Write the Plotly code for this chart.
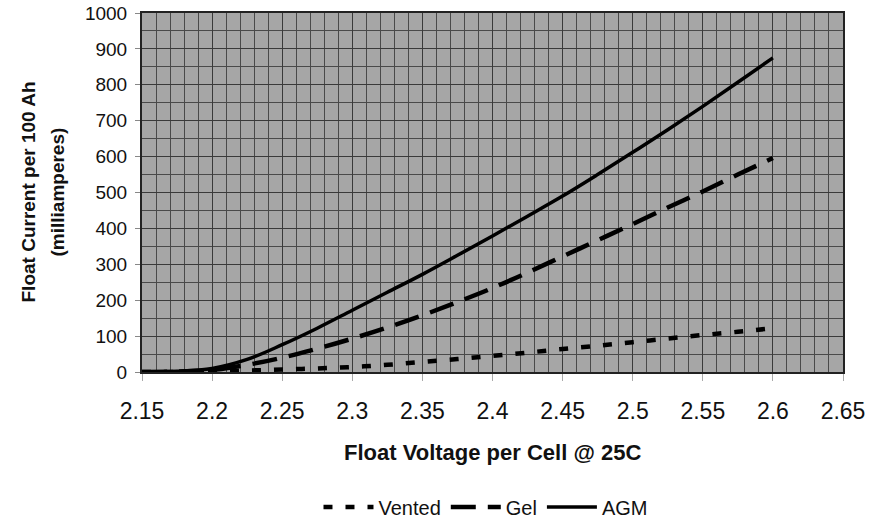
import plotly.graph_objects as go

# float voltage per cell (V) and float current per 100 Ah (mA)
voltage = [2.15, 2.175, 2.2, 2.225, 2.25, 2.275, 2.3, 2.325, 2.35, 2.375,
           2.4, 2.425, 2.45, 2.475, 2.5, 2.525, 2.55, 2.575, 2.6]
vented = [0, 0, 2, 4, 7, 10, 14, 20, 28, 36, 45, 54, 64, 73, 83, 93, 103, 112, 122]
gel = [0, 1, 6, 20, 40, 65, 93, 124, 158, 195, 234, 277, 322, 367, 412, 458, 503, 550, 596]
agm = [0, 2, 10, 35, 76, 122, 172, 222, 272, 325, 379, 434, 490, 550, 612, 675, 740, 807, 875]

x_ticks = [2.15, 2.2, 2.25, 2.3, 2.35, 2.4, 2.45, 2.5, 2.55, 2.6, 2.65]
x_labels = ["2.15", "2.2", "2.25", "2.3", "2.35", "2.4", "2.45", "2.5", "2.55", "2.6", "2.65"]
y_ticks = list(range(0, 1001, 100))

FONT = "Liberation Sans, Arial, Helvetica, sans-serif"

fig = go.Figure()

fig.add_trace(go.Scatter(
    x=voltage, y=vented, mode="lines", name="Vented",
    line=dict(color="black", width=4.5, dash="9px,13px", shape="spline")
))
fig.add_trace(go.Scatter(
    x=voltage, y=gel, mode="lines", name="Gel",
    line=dict(color="black", width=4.5, dash="25px,12px", shape="spline")
))
fig.add_trace(go.Scatter(
    x=voltage, y=agm, mode="lines", name="AGM",
    line=dict(color="black", width=3.5, shape="spline")
))

fig.update_xaxes(
    range=[2.15, 2.65],
    tickvals=x_ticks, ticktext=x_labels,
    tickfont=dict(family=FONT, size=23, color="#111"),
    ticks="outside", ticklen=7, tickcolor="#aaa",
    ticklabelstandoff=10,
    showgrid=True, gridcolor="#3a3a3a", gridwidth=1,
    minor=dict(dtick=0.01, tick0=2.15, showgrid=True, gridcolor="#4a4a4a", gridwidth=1),
    showline=True, linecolor="#222", linewidth=2, mirror=True,
    zeroline=False, automargin=False,
)
fig.update_yaxes(
    range=[0, 1000],
    tickvals=y_ticks,
    tickfont=dict(family=FONT, size=19, color="#111"),
    ticks="outside", ticklen=5, tickcolor="#888",
    ticklabelstandoff=4, ticklabeloverflow="allow",
    showgrid=True, gridcolor="#3a3a3a", gridwidth=1,
    minor=dict(dtick=50, tick0=0, showgrid=True, gridcolor="#4a4a4a", gridwidth=1),
    showline=True, linecolor="#222", linewidth=2, mirror=True,
    zeroline=False, automargin=False,
)

# axis titles
fig.add_annotation(
    text="<b>Float Voltage per Cell @ 25C</b>",
    xref="paper", yref="paper", x=0.5, y=0, yshift=-80,
    xanchor="center", yanchor="middle", showarrow=False,
    font=dict(family=FONT, size=22, color="#111")
)
fig.add_annotation(
    text="<b>Float Current per 100 Ah</b>",
    xref="paper", yref="paper", x=0, y=0.5, xshift=-114,
    xanchor="center", yanchor="middle", textangle=-90, showarrow=False,
    font=dict(family=FONT, size=19, color="#111")
)
fig.add_annotation(
    text="<b>(milliamperes)</b>",
    xref="paper", yref="paper", x=0, y=0.5, xshift=-85,
    xanchor="center", yanchor="middle", textangle=-90, showarrow=False,
    font=dict(family=FONT, size=19, color="#111")
)

fig.update_layout(
    width=873, height=520,
    margin=dict(l=142, r=30, t=13, b=148, autoexpand=False),
    plot_bgcolor="#a6a6a6",
    paper_bgcolor="white",
    showlegend=True,
    legend=dict(
        orientation="h", x=0.49, xanchor="center",
        yref="container", y=0.025, yanchor="middle",
        font=dict(family=FONT, size=20, color="#111"),
        itemwidth=50, tracegroupgap=0,
        bgcolor="rgba(0,0,0,0)",
    ),
)

# drop the default page margin so the figure sits at the window's corner
fig.write_html(
    "out.html",
    config={"displayModeBar": False},
    post_script="document.body.style.margin='0';",
)
